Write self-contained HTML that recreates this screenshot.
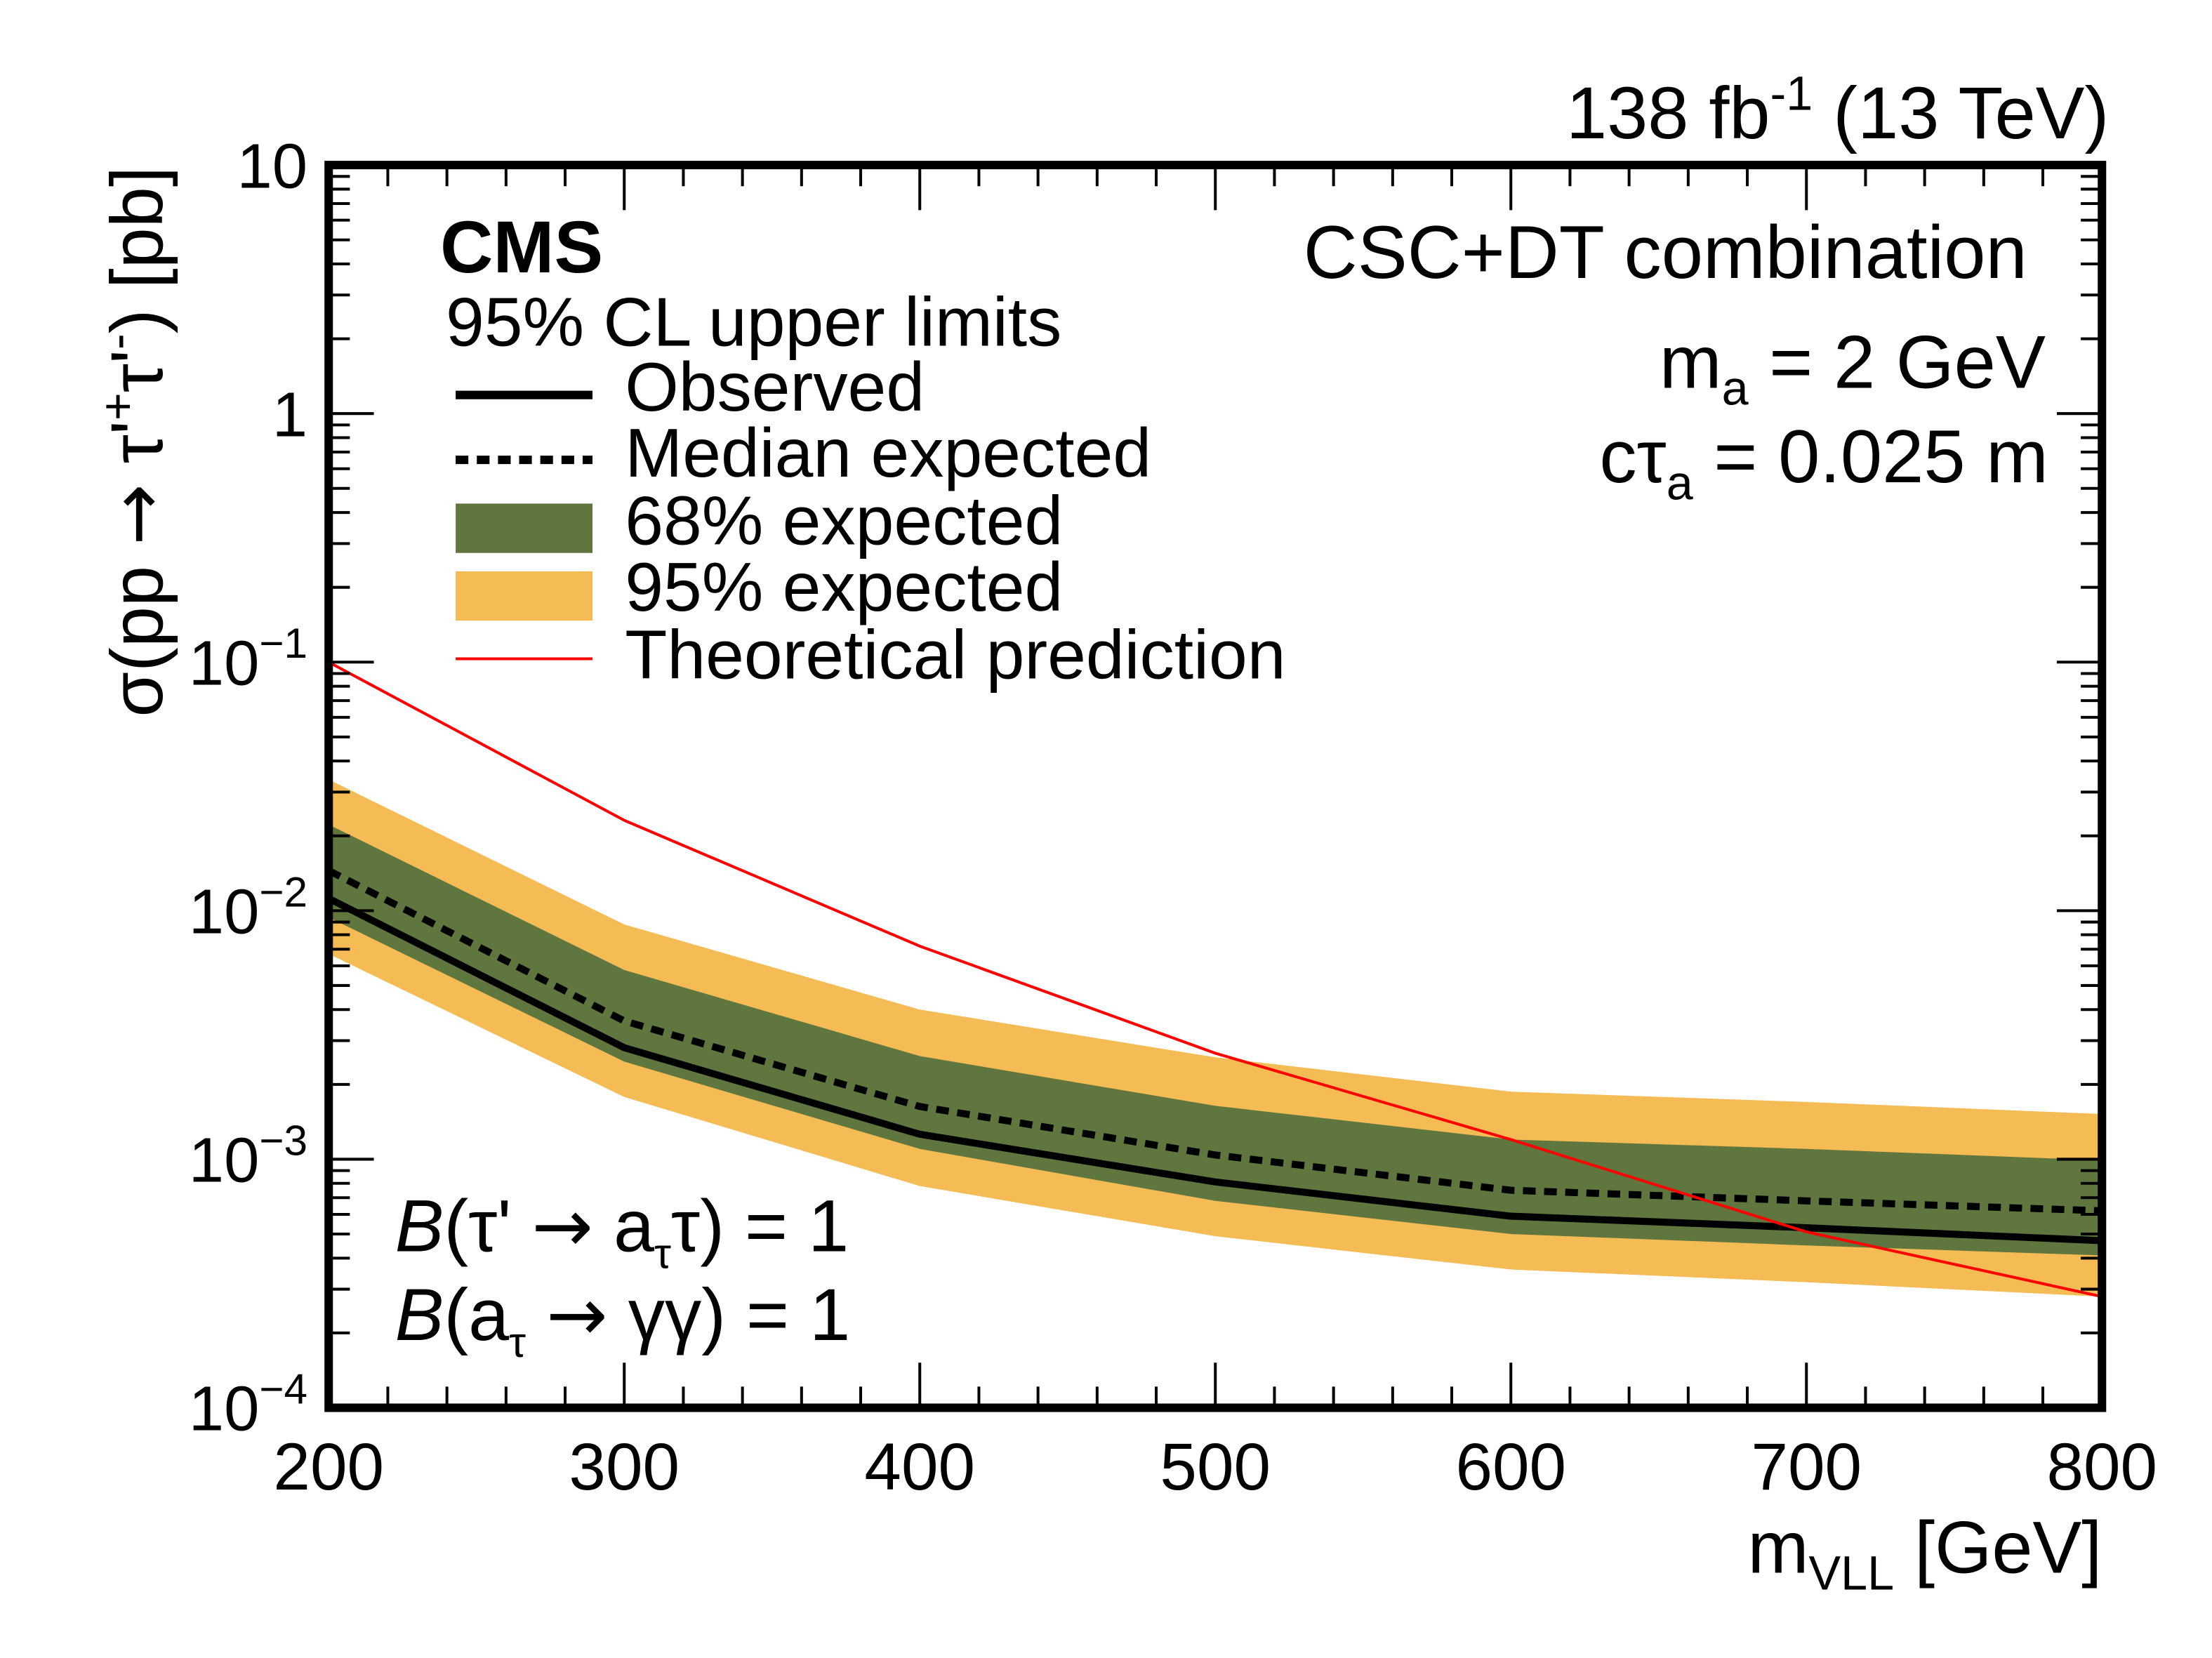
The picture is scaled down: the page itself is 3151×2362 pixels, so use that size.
<!DOCTYPE html>
<html><head><meta charset="utf-8"><style>
html,body{margin:0;padding:0;background:#fff}
svg{display:block}
text{font-family:"Liberation Sans",sans-serif;fill:#000}
.ar{font-family:"DejaVu Sans",sans-serif}
</style></head><body>
<svg id="chart" width="3151" height="2362" viewBox="0 0 1568 1175.4" preserveAspectRatio="none" xmlns="http://www.w3.org/2000/svg">
<rect width="1568" height="1176" fill="#fff"/>
<g id="marks"></g>
<g id="axes"></g>
<text x="1495" y="98" font-size="52" text-anchor="end">138 fb<tspan font-size="34" dy="-20">-1</tspan><tspan dy="20"> (13 TeV)</tspan></text>
<text x="312" y="193" font-size="52" font-weight="bold">CMS</text>
<text x="316" y="245" font-size="49">95% CL upper limits</text>
<g>
<line x1="323" y1="280" x2="420" y2="280" stroke="#000" stroke-width="6"/>
<text x="443" y="291" font-size="49">Observed</text>
<line x1="323" y1="326" x2="420" y2="326" stroke="#000" stroke-width="6" stroke-dasharray="9,6"/>
<text x="443" y="338" font-size="49">Median expected</text>
<rect x="323" y="357" width="97" height="35" fill="#5f773f"/>
<text x="443" y="386" font-size="49">68% expected</text>
<rect x="323" y="405" width="97" height="35" fill="#f5bb54"/>
<text x="443" y="433" font-size="49">95% expected</text>
<line x1="323" y1="467" x2="420" y2="467" stroke="#f00" stroke-width="2"/>
<text x="443" y="481" font-size="49">Theoretical prediction</text>
</g>
<text x="1437" y="197" font-size="53" text-anchor="end">CSC+DT combination</text>
<text x="1450" y="275" font-size="53" text-anchor="end">m<tspan font-size="34" dy="12">a</tspan><tspan dy="-12"> = 2 GeV</tspan></text>
<text x="1452" y="342" font-size="53" text-anchor="end">cτ<tspan font-size="34" dy="12">a</tspan><tspan dy="-12"> = 0.025 m</tspan></text>
<text x="280" y="887" font-size="52"><tspan font-style="italic">B</tspan>(τ' <tspan class="ar">→</tspan> a<tspan font-size="30" dy="12">τ</tspan><tspan dy="-12">τ) = 1</tspan></text>
<text x="280" y="950" font-size="52"><tspan font-style="italic">B</tspan>(a<tspan font-size="30" dy="12">τ</tspan><tspan dy="-12"> </tspan><tspan class="ar">→</tspan> γγ) = 1</text>
<text x="1490" y="1115" font-size="52" text-anchor="end">m<tspan font-size="34" dy="12">VLL</tspan><tspan dy="-12"> [GeV]</tspan></text>
<text transform="translate(115,118) rotate(-90)" font-size="52" text-anchor="end">σ(pp <tspan class="ar">→</tspan> τ'<tspan font-size="34" dy="-20">+</tspan><tspan dy="20">τ'</tspan><tspan font-size="34" dy="-20">-</tspan><tspan dy="20">) [pb]</tspan></text>
</svg>
<script>
const masses=[200,300,400,500,600,700,800];
const observed=[0.0112,0.00281,0.00126,8.1e-4,5.9e-4,5.3e-4,4.7e-4];
const expected=[0.0145,0.0036,0.00163,1.04e-3,7.5e-4,6.8e-4,6.2e-4];
const band68Up=[0.0222,0.00577,0.0026,0.00164,0.0012,0.0011,9.9e-4];
const band68Down=[0.0094,0.00247,0.0011,6.8e-4,5.0e-4,4.5e-4,4.1e-4];
const band95Up=[0.0337,0.0088,0.0040,0.00257,0.00187,0.0017,0.00152];
const band95Down=[0.0067,0.00178,7.8e-4,4.9e-4,3.6e-4,3.2e-4,2.8e-4];
const theory=[0.1,0.0231,0.0072,0.00267,0.0012,5.1e-4,2.8e-4];
const xTicks=[200,300,400,500,600,700,800];
const yExps=[-4,-3,-2,-1,0,1];
const NS='http://www.w3.org/2000/svg';
const L=233,R=1490,T=117,B=998;
const X=v=>L+(v-200)/600*(R-L);
const Y=v=>B-(Math.log10(v)+4)/5*(B-T);
function mk(tag,attrs,parent){const e=document.createElementNS(NS,tag);for(const k in attrs)e.setAttribute(k,attrs[k]);parent.appendChild(e);return e;}
const marks=document.getElementById('marks'),axes=document.getElementById('axes');
function band(up,dn,col){
 let d='M'+masses.map((m,i)=>X(m)+','+Y(up[i])).join('L');
 d+='L'+masses.map((m,i)=>X(m)+','+Y(dn[i])).reverse().join('L')+'Z';
 return mk('path',{d:d,fill:col},marks);
}
let bb=band(band95Up,band95Down,'#f5bb54');


bb=band(band68Up,band68Down,'#5f773f');


function line(vals,col,w,dash){
 const p=mk('polyline',{points:masses.map((m,i)=>X(m)+','+Y(vals[i])).join(' '),fill:'none',stroke:col,'stroke-width':w},marks);
 if(dash)p.setAttribute('stroke-dasharray',dash);
 return p;
}
let e=line(expected,'#000',5,'9,6');


e=line(observed,'#000',5);


e=line(theory,'#f00',2);


for(let v=200;v<=800;v+=20){
 const major=(v%100===0),len=major?32:15,x=X(v);
 mk('line',{x1:x,y1:B,x2:x,y2:B-len,stroke:'#000','stroke-width':2},axes);
 mk('line',{x1:x,y1:T,x2:x,y2:T+len,stroke:'#000','stroke-width':2},axes);
}
xTicks.forEach(v=>{
 const t=mk('text',{x:X(v),y:1056,'font-size':47,'text-anchor':'middle'},axes);
 t.textContent=v;
 
 
});
for(let ex=-4;ex<1;ex++){for(let m=1;m<10;m++){
 const y=Y(m*Math.pow(10,ex)),len=m===1?32:15;
 mk('line',{x1:L,y1:y,x2:L+len,y2:y,stroke:'#000','stroke-width':2},axes);
 mk('line',{x1:R,y1:y,x2:R-len,y2:y,stroke:'#000','stroke-width':2},axes);
}}
yExps.forEach(ex=>{
 const y=Y(Math.pow(10,ex))+16;
 const t=mk('text',{x:218,y:y,'font-size':45,'text-anchor':'end'},axes);
 if(ex===0)t.textContent='1';
 else if(ex===1)t.textContent='10';
 else{t.innerHTML='10<tspan font-size="30" dy="-19">\u2212'+(-ex)+'</tspan>';}
 
 
});
const f=mk('rect',{x:L,y:T,width:R-L,height:B-T,fill:'none',stroke:'#000','stroke-width':6},axes);


</script>
</body></html>
